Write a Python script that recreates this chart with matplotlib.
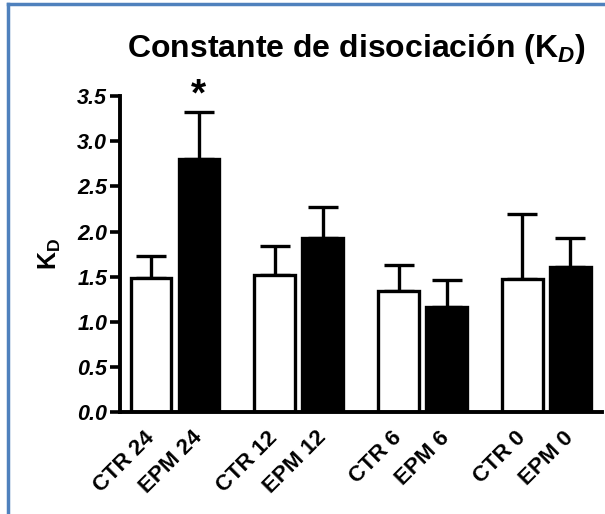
import numpy as np
import matplotlib.pyplot as plt
from matplotlib.lines import Line2D

plt.rcParams['font.family'] = ['Liberation Sans', 'DejaVu Sans']
plt.rcParams['mathtext.fontset'] = 'custom'
plt.rcParams['mathtext.rm'] = 'Liberation Sans:bold'
plt.rcParams['mathtext.it'] = 'Liberation Sans:bold:italic'

labels = ['CTR 24', 'EPM 24', 'CTR 12', 'EPM 12', 'CTR 6', 'EPM 6', 'CTR 0', 'EPM 0']
means = [1.49, 2.80, 1.52, 1.93, 1.34, 1.17, 1.48, 1.61]
errs = [0.24, 0.52, 0.32, 0.34, 0.29, 0.29, 0.72, 0.32]
colors = ['white', 'black'] * 4
yticks = [0.0, 0.5, 1.0, 1.5, 2.0, 2.5, 3.0, 3.5]

# two bars per group
xs = np.array([g * 2.58 + k for g in range(4) for k in range(2)])

fig = plt.figure(figsize=(6.05, 5.14), dpi=100)
ax = fig.add_axes([0.198, 0.198, 0.797, 0.615])

ax.bar(xs, means, width=0.85, color=colors, edgecolor='black', linewidth=2.4, zorder=2)
ax.errorbar(xs, means, yerr=[np.zeros(len(errs)), errs], fmt='none', ecolor='black',
            elinewidth=2.4, capsize=11, capthick=2.4, zorder=1)

ax.text(xs[1], means[1] + errs[1] + 0.19, '*', ha='center', va='center',
        fontsize=28, fontweight='bold', clip_on=False)

ax.set_xlim(-0.65, 9.4)
ax.set_ylim(0, 3.5)
ax.set_yticks(yticks)
ax.set_yticklabels(['%.1f' % v for v in yticks], fontsize=15.5, fontweight='bold', style='italic')
ax.set_xticks(xs)
ax.set_xticklabels(labels, rotation=45, ha='right', va='center', rotation_mode='anchor',
                   fontsize=16, fontweight='bold')
ax.tick_params(axis='x', length=0, pad=16)
ax.tick_params(axis='y', length=7, width=2.6, pad=2)
for s in ['top', 'right']:
    ax.spines[s].set_visible(False)
for s in ['left', 'bottom']:
    ax.spines[s].set_linewidth(2.8)

ax.set_ylabel(r'K$_{\mathrm{D}}$', fontsize=18, fontweight='bold', labelpad=10)
ax.set_title(r'Constante de disociación (K$_{D}$)', fontsize=23, fontweight='bold', pad=28, x=0.49)

blue = '#4f81bd'
fig.add_artist(Line2D([8 / 605, 1.0], [1 - 4 / 514, 1 - 4 / 514], color=blue, lw=2.5))
fig.add_artist(Line2D([8 / 605, 8 / 605], [0, 1 - 4 / 514], color=blue, lw=2.5))

fig.savefig('out.png', dpi=100)
